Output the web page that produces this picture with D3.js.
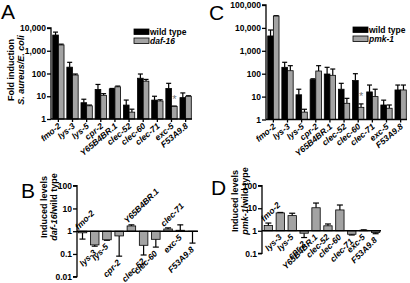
<!DOCTYPE html>
<html>
<head>
<meta charset="utf-8">
<script src="https://cdn.jsdelivr.net/npm/d3@7"></script>
<style>
  body { margin: 0; background: #fff; }
  svg { font-family: "Liberation Sans", Arial, sans-serif; }
  .axis path, .axis line { stroke: #000; stroke-width: 1.3; }
  .axis text { font-size: 8.5px; font-weight: bold; fill: #000; }
</style>
</head>
<body>
<div id="chart"></div>
<script>
// genes, same order in all four panels
const genes = ["fmo-2", "lys-3", "lys-5", "cpr-2", "Y65B4BR.1", "clec-52", "clec-60", "clec-71", "exc-5", "F53A9.8"];

// panel A: fold induction S. aureus / E. coli
const aWild    = [4900, 190, 5.2, 20, 21, 4.1, 62, 6.8, 22, 8.7];
const aWildErr = [6600, 310, 7.4, 33, 22, 6.8, 95, 10, 37, 14];
const aDaf     = [1800, 86, 3.8, 11, 26, 2.0, 46, 6.2, 3.6, 10];
const aDafErr  = [1950, 95, 4.1, 13, 28, 2.7, 55, 7, 3.7, 10.5];

// panel C
const cWild    = [4450, 190, 12, 55, 97, 21, 50, 16, 4.3, 19.5];
const cWildErr = [8100, 315, 21, 60, 190, 38, 100, 32, 7, 32];
const cPmk     = [33000, 135, 2.1, 131, 85, 5.1, 3.4, 10, 3.1, 19.5];
const cPmkErr  = [34000, 224, 2.8, 224, 160, 8.4, 4.8, 21, 4.3, 32];

// panel B: daf-16 / wild type
const bRatio = [0.85, 0.25, 0.42, 0.62, 1.7, 0.24, 0.44, 1.25, 1.1, 0.97];
const bErr   = [0.45, 0.22, 0.4, 0.08, 1.9, 0.09, 0.2, 1.4, 1.9, 0.3];
const bSide  = ["up", "down", "down", "down", "up", "down", "down", "up", "down", "down"];

// panel D: pmk-1 / wild type
const dRatio = [1.7, 6.2, 4.7, 0.78, 10.5, 1.66, 8.4, 0.7, 1.05, 0.84];
const dErr   = [2.2, 6.5, 6.0, 0.5, 17, 2.0, 13.9, 0.65, 1.1, 0.74];
const dSide  = ["up", "down", "down", "down", "down", "down", "down", "down", "down", "down"];

const aTicks = [1, 10, 100, 1000, 10000];
const cTicks = [1, 10, 100, 1000, 10000, 100000];
const bTicks = [0.01, 0.1, 1, 10, 100];
const dTicks = [0.1, 1, 10, 100];

const GRAY = "#a3a3a3";

const svg = d3.select("#chart").append("svg")
    .attr("width", 410)
    .attr("height", 283);

function panelLetter(txt, x, y) {
    svg.append("text")
        .attr("x", x).attr("y", y)
        .attr("font-size", 21)
        .text(txt);
}

// grouped log bar chart (panels A and C)
function groupedPanel(opt) {
    let g = svg.append("g");
    let x = d3.scaleBand().domain(genes).range(opt.xr).paddingInner(0.2).paddingOuter(0.05);
    let sub = d3.scaleBand().domain([0, 1]).range([0, x.bandwidth()]);
    let y = d3.scaleLog().domain(opt.yd).range(opt.yr);

    let rows = genes.map((gname, i) => [
        {gene: gname, k: 0, v: opt.s1[i], e: opt.e1[i]},
        {gene: gname, k: 1, v: opt.s2[i], e: opt.e2[i]}
    ]).flat();

    // error bars first, bars drawn over them
    let err = g.selectAll(".err").data(rows).enter().append("g").attr("class", "err")
        .attr("stroke", "#000").attr("stroke-width", 1.2);
    err.append("line")
        .attr("x1", d => x(d.gene) + sub(d.k) + sub.bandwidth() / 2)
        .attr("x2", d => x(d.gene) + sub(d.k) + sub.bandwidth() / 2)
        .attr("y1", d => y(d.v))
        .attr("y2", d => y(d.e));
    err.append("line")
        .attr("x1", d => x(d.gene) + sub(d.k) + sub.bandwidth() / 2 - 2.5)
        .attr("x2", d => x(d.gene) + sub(d.k) + sub.bandwidth() / 2 + 2.5)
        .attr("y1", d => y(d.e))
        .attr("y2", d => y(d.e));

    g.selectAll(".bar").data(rows).enter().append("rect")
        .attr("x", d => x(d.gene) + sub(d.k))
        .attr("width", sub.bandwidth())
        .attr("y", d => y(d.v))
        .attr("height", d => opt.yr[0] - y(d.v))
        .attr("fill", d => d.k === 0 ? "#000" : GRAY)
        .attr("stroke", "#000")
        .attr("stroke-width", 0.8);

    let yAxis = d3.axisLeft(y).tickValues(opt.ticks).tickFormat(d3.format(",")).tickSize(4).tickPadding(1);
    g.append("g").attr("class", "axis")
        .attr("transform", "translate(" + opt.ax + ",0)")
        .call(yAxis)
        .call(a => a.select(".domain").attr("d", "M-4," + opt.yr[1] + "H0V" + opt.yr[0]));

    let xAxis = d3.axisBottom(x).tickSize(3).tickFormat("");
    let xg = g.append("g").attr("class", "axis")
        .attr("transform", "translate(0," + opt.yr[0] + ")")
        .call(xAxis);
    xg.select(".domain").attr("d", "M" + opt.ax + ",0H" + opt.xr[1]);

    g.selectAll(".xlab").data(genes).enter().append("text")
        .attr("font-size", 8.5).attr("font-weight", "bold")
        .attr("font-style", "italic")
        .attr("text-anchor", "end")
        .attr("transform", d => "translate(" + (x(d) + x.bandwidth() / 2 + 3) + "," + (opt.yr[0] + 8) + ") rotate(-40)")
        .text(d => d);

    // significance mark
    let si = genes.indexOf(opt.star);
    g.append("text")
        .attr("x", x(opt.star) + sub(1) + sub.bandwidth() / 2)
        .attr("y", y(opt.e2[si]) - 2)
        .attr("text-anchor", "middle")
        .attr("font-size", 11).attr("fill", "#777")
        .attr("dy", "0.6em")
        .attr("transform", "translate(0,-8)")
        .text("*");

    // legend
    let lg = g.append("g").attr("transform", "translate(" + opt.leg[0] + "," + opt.leg[1] + ")");
    [[opt.names[0], "#000", "normal"], [opt.names[1], GRAY, "italic"]].forEach((l, i) => {
        lg.append("rect").attr("x", 0).attr("y", i * 9).attr("width", 15).attr("height", 5.5)
            .attr("fill", l[1]).attr("stroke", "#000").attr("stroke-width", 0.8);
        lg.append("text").attr("x", 16).attr("y", i * 9 + 5.8)
            .attr("font-size", 8.5).attr("font-weight", "bold").attr("font-style", l[2])
            .text(l[0]);
    });
}

// ratio bars hanging from 1 (panels B and D)
function ratioPanel(opt) {
    let g = svg.append("g");
    let x = d3.scaleBand().domain(genes).range(opt.xr).paddingInner(0.3).paddingOuter(0.1);
    let y = d3.scaleLog().domain(opt.yd).range(opt.yr);
    let base = y(1);
    let rows = genes.map((gname, i) => ({gene: gname, v: opt.vals[i], e: opt.errs[i], side: opt.side[i]}));

    let err = g.selectAll(".err").data(rows).enter().append("g")
        .attr("stroke", "#000").attr("stroke-width", 1.2);
    err.append("line")
        .attr("x1", d => x(d.gene) + x.bandwidth() / 2)
        .attr("x2", d => x(d.gene) + x.bandwidth() / 2)
        .attr("y1", d => y(d.v)).attr("y2", d => y(d.e));
    err.append("line")
        .attr("x1", d => x(d.gene) + x.bandwidth() / 2 - 3)
        .attr("x2", d => x(d.gene) + x.bandwidth() / 2 + 3)
        .attr("y1", d => y(d.e)).attr("y2", d => y(d.e));

    g.selectAll(".bar").data(rows).enter().append("rect")
        .attr("x", d => x(d.gene))
        .attr("width", x.bandwidth())
        .attr("y", d => Math.min(y(d.v), base))
        .attr("height", d => Math.abs(y(d.v) - base))
        .attr("fill", GRAY).attr("stroke", "#000").attr("stroke-width", 0.8);

    let yAxis = d3.axisLeft(y).tickValues(opt.ticks).tickFormat(d3.format("~g")).tickSize(4).tickPadding(1);
    g.append("g").attr("class", "axis")
        .attr("transform", "translate(" + opt.ax + ",0)")
        .call(yAxis)
        .call(a => a.select(".domain").attr("d", "M-4," + opt.yr[1] + "H0V" + opt.yr[0] + "H-4"));

    // baseline at 1
    g.append("line").attr("x1", opt.ax).attr("x2", opt.xr[1])
        .attr("y1", base).attr("y2", base)
        .attr("stroke", "#000").attr("stroke-width", 1.5);

    g.selectAll(".lab").data(rows).enter().append("text")
        .attr("font-size", 8.5).attr("font-weight", "bold").attr("font-style", "italic")
        .attr("text-anchor", d => d.side === "up" ? "start" : "end")
        .attr("transform", d => {
            let cx = x(d.gene) + x.bandwidth() / 2;
            if (d.side === "up") {
                let top = Math.min(base, y(d.v), y(d.e));
                return "translate(" + (cx - 4) + "," + (top - 1) + ") rotate(-45)";
            }
            let bot = Math.max(base, y(d.v), y(d.e));
            return "translate(" + (cx + 2) + "," + (bot + 7) + ") rotate(-45)";
        })
        .text(d => d.gene);

    // y title, two lines
    let t = g.append("text")
        .attr("transform", "translate(" + opt.tx + "," + opt.ty + ") rotate(-90)")
        .attr("text-anchor", "middle").attr("font-size", 9).attr("font-weight", "bold");
    t.append("tspan").attr("x", 0).attr("dy", 0).text("Induced levels");
    let t2 = t.append("tspan").attr("x", 0).attr("dy", 10);
    t2.append("tspan").attr("font-style", "italic").text(opt.mutant);
    t2.append("tspan").text("/wild type");
}

// A
groupedPanel({
    xr: [52, 192], ax: 51, yd: [1, 10000], yr: [119, 28], ticks: aTicks,
    s1: aWild, e1: aWildErr, s2: aDaf, e2: aDafErr,
    star: "exc-5", names: ["wild type", "daf-16"], leg: [134, 29]
});
let aTitle = svg.append("text")
    .attr("transform", "translate(14,70) rotate(-90)")
    .attr("text-anchor", "middle").attr("font-size", 9).attr("font-weight", "bold");
aTitle.append("tspan").attr("x", 0).text("Fold induction");
aTitle.append("tspan").attr("x", 0).attr("dy", 10).attr("font-style", "italic").text("S. aureus/E. coli");

// C
groupedPanel({
    xr: [267, 407], ax: 266, yd: [1, 100000], yr: [119.5, 5], ticks: cTicks,
    s1: cWild, e1: cWildErr, s2: cPmk, e2: cPmkErr,
    star: "clec-60", names: ["wild type", "pmk-1"], leg: [353, 27]
});

// B
ratioPanel({
    xr: [77, 198], ax: 77, yd: [0.01, 100], yr: [276.7, 185.7], ticks: bTicks,
    vals: bRatio, errs: bErr, side: bSide, mutant: "daf-16", tx: 47, ty: 207
});

// D
ratioPanel({
    xr: [263, 381], ax: 262, yd: [0.1, 100], yr: [253.3, 185.7], ticks: dTicks,
    vals: dRatio, errs: dErr, side: dSide, mutant: "pmk-1", tx: 238, ty: 201
});

panelLetter("A", 1, 19);
panelLetter("B", 21, 198);
panelLetter("C", 209, 20);
panelLetter("D", 211, 195);
</script>
</body>
</html>
